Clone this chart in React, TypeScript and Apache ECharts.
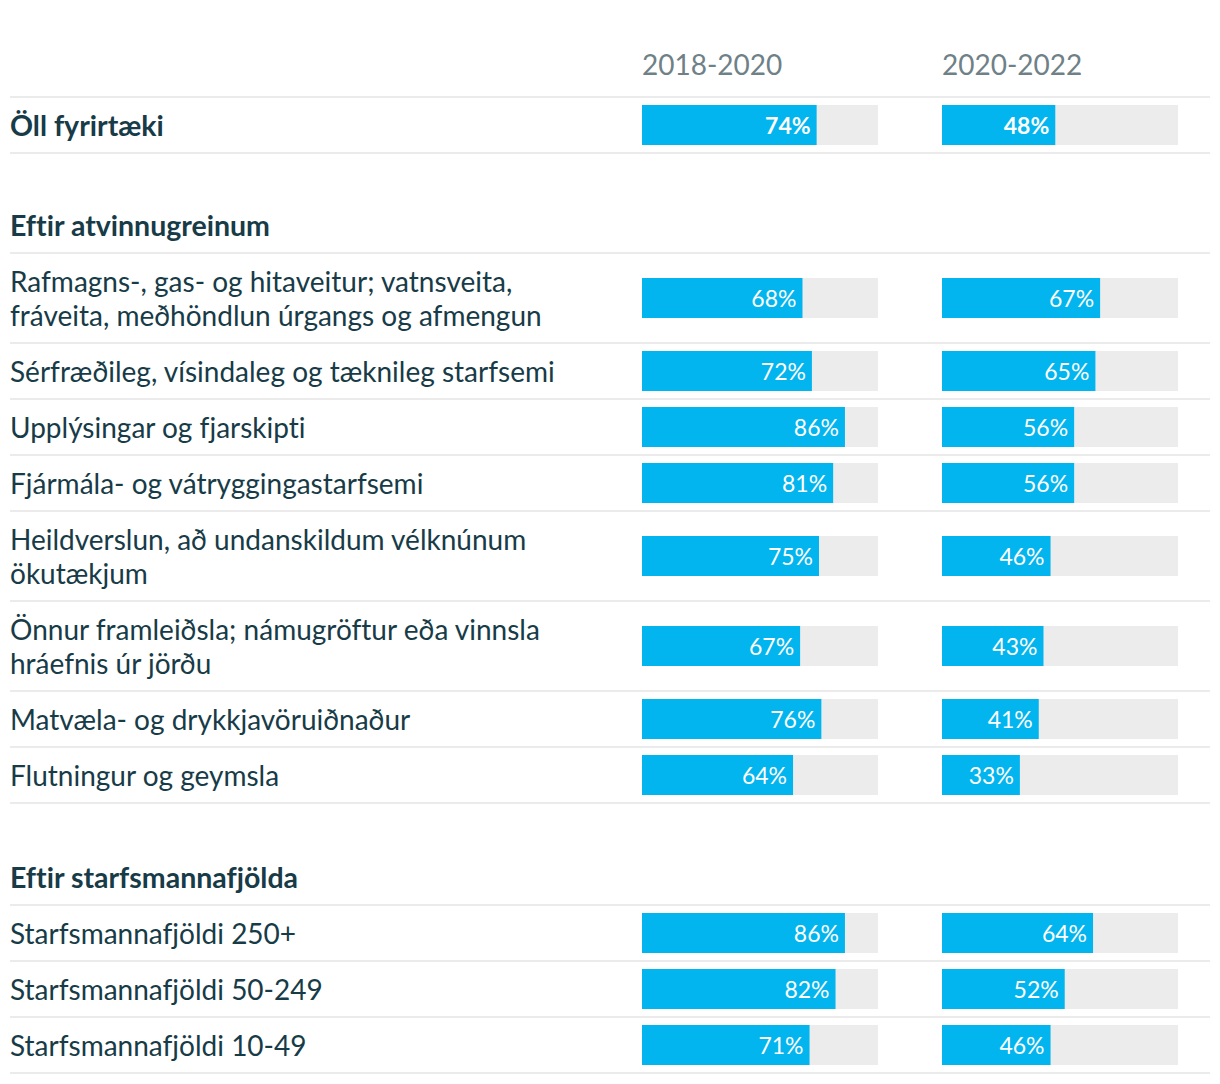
import React, { useEffect, useRef } from "react";
import * as echarts from "echarts";

// ---- data ----
const columnTitles = ["2018-2020", "2020-2022"];
const rowLabels = [
  "Öll fyrirtæki",
  "Rafmagns-, gas- og hitaveitur; vatnsveita,\nfráveita, meðhöndlun úrgangs og afmengun",
  "Sérfræðileg, vísindaleg og tæknileg starfsemi",
  "Upplýsingar og fjarskipti",
  "Fjármála- og vátryggingastarfsemi",
  "Heildverslun, að undanskildum vélknúnum\nökutækjum",
  "Önnur framleiðsla; námugröftur eða vinnsla\nhráefnis úr jörðu",
  "Matvæla- og drykkjavöruiðnaður",
  "Flutningur og geymsla",
  "Starfsmannafjöldi 250+",
  "Starfsmannafjöldi 50-249",
  "Starfsmannafjöldi 10-49",
];
const values2018 = [74, 68, 72, 86, 81, 75, 67, 76, 64, 86, 82, 71];
const values2020 = [48, 67, 65, 56, 56, 46, 43, 41, 33, 64, 52, 46];
const sectionTitles = ["Eftir atvinnugreinum", "Eftir starfsmannafjölda"];

// ---- layout ----
const FONT = "Lato, 'Open Sans', sans-serif";
const TEXT = "#173b47";
const GREY = "#6f8187";
const BLUE = "#02b5ee";
const BG = "#ececec";
const SEP = "#ebebeb";
const COL_LEFT = [642, 942];
const BAR_W = 236;
const BAR_H = 40;
const TOP0 = 97;
const SECTION_H = 100;
const SECTION_BEFORE = [1, 9];
const SINGLE_H = 56;
const DOUBLE_H = 90;

export default function App() {
  const ref = useRef<HTMLDivElement>(null);
  useEffect(() => {
    if (!ref.current) return;
    const chart = echarts.init(ref.current, null, { renderer: "svg" });

    const rows: { top: number; h: number }[] = [];
    const sections: { top: number; h: number }[] = [];
    const sepYs: number[] = [TOP0];
    let y = TOP0;
    rowLabels.forEach((lab, i) => {
      const si = SECTION_BEFORE.indexOf(i);
      if (si >= 0) {
        const sh = i === 1 ? SECTION_H : SECTION_H + 2;
        sections.push({ top: y, h: sh });
        y += sh;
        sepYs.push(y);
      }
      const h = lab.includes("\n") ? DOUBLE_H : SINGLE_H;
      rows.push({ top: y, h });
      y += h;
      sepYs.push(y);
    });

    const grids: any[] = [];
    const xAxes: any[] = [];
    const yAxes: any[] = [];
    const series: any[] = [];
    const colValues = [values2018, values2020];
    rows.forEach((r, i) => {
      const bold = i === 0;
      for (let c = 0; c < 2; c++) {
        const gi = grids.length;
        grids.push({
          left: COL_LEFT[c],
          width: BAR_W,
          top: r.top + (r.h - BAR_H) / 2,
          height: BAR_H,
          containLabel: false,
        });
        xAxes.push({ type: "value", gridIndex: gi, min: 0, max: 100, show: false });
        yAxes.push({
          type: "category",
          gridIndex: gi,
          data: [rowLabels[i]],
          show: c === 0,
          axisLine: { show: false },
          axisTick: { show: false },
          splitLine: { show: false },
          axisLabel: {
            show: c === 0,
            align: "left",
            margin: COL_LEFT[0] - 10,
            fontFamily: FONT,
            fontSize: bold ? 28.5 : 28,
            lineHeight: 34,
            fontWeight: bold ? "bold" : "normal",
            color: TEXT,
          },
        });
        series.push({
          type: "bar",
          xAxisIndex: gi,
          yAxisIndex: gi,
          data: [colValues[c][i]],
          barWidth: BAR_H,
          showBackground: true,
          backgroundStyle: { color: BG },
          itemStyle: { color: BLUE },
          label: {
            show: true,
            position: "insideRight",
            distance: 6,
            formatter: "{c}%",
            color: "#ffffff",
            fontFamily: FONT,
            fontSize: 23,
            fontWeight: bold ? "bold" : "normal",
          },
        });
      }
    });

    const graphics: any[] = [];
    columnTitles.forEach((t, c) =>
      graphics.push({
        type: "text",
        x: COL_LEFT[c],
        y: 64,
        style: {
          text: t,
          fill: GREY,
          font: `28px ${FONT}`,
          textAlign: "left",
          textVerticalAlign: "middle",
        },
      })
    );
    sections.forEach((s, k) =>
      graphics.push({
        type: "text",
        x: 10,
        y: s.top + s.h - 28,
        style: {
          text: sectionTitles[k],
          fill: TEXT,
          font: `bold 28.5px ${FONT}`,
          textAlign: "left",
          textVerticalAlign: "middle",
        },
      })
    );
    sepYs.forEach((sy) =>
      graphics.push({
        type: "line",
        shape: { x1: 10, y1: sy, x2: 1210, y2: sy },
        style: { stroke: SEP, lineWidth: 2 },
        silent: true,
      })
    );

    chart.setOption({
      animation: false,
      backgroundColor: "#ffffff",
      grid: grids,
      xAxis: xAxes,
      yAxis: yAxes,
      series,
      graphic: graphics,
    });
    return () => chart.dispose();
  }, []);
  return (
    <>
      <style>{`svg text, svg tspan { font-variant-ligatures: none !important; font-feature-settings: "liga" 0, "clig" 0 !important; }`}</style>
      <div
        ref={ref}
        style={{ position: "absolute", left: 0, top: 0, width: 1220, height: 1084 }}
      />
    </>
  );
}
